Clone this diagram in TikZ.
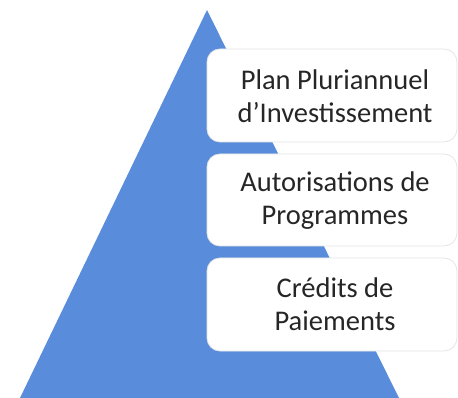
\documentclass[tikz,border=0pt]{standalone}
\usepackage{fontspec}
\setmainfont{Carlito}
\begin{document}
\begin{tikzpicture}[x=1pt,y=-1pt,
  level/.style={draw=black!10, line width=0.8pt, fill=white, rounded corners=13pt},
  lvltext/.style={align=center, text=black!85, font=\fontsize{28.5}{33}\selectfont}]
\useasboundingbox (0,0) rectangle (458,398);
% pyramid
\fill[fill={rgb,255:red,90;green,140;blue,220}] (207,10) coordinate (apex) -- (399,398) coordinate (br) -- (20,398) coordinate (bl) -- cycle;
% levels
\draw[level] (207,49) rectangle (457,142);
\draw[level] (207,154) rectangle (457,246);
\draw[level] (207,258) rectangle (457,351);
\node[lvltext] (ppi) at (335,96) {Plan Pluriannuel\\d’Investissement};
\node[lvltext] (ap) at (335,201) {Autorisations de\\Programmes};
\node[lvltext] (cp) at (335,304) {Crédits de\\Paiements};
\end{tikzpicture}
\end{document}
